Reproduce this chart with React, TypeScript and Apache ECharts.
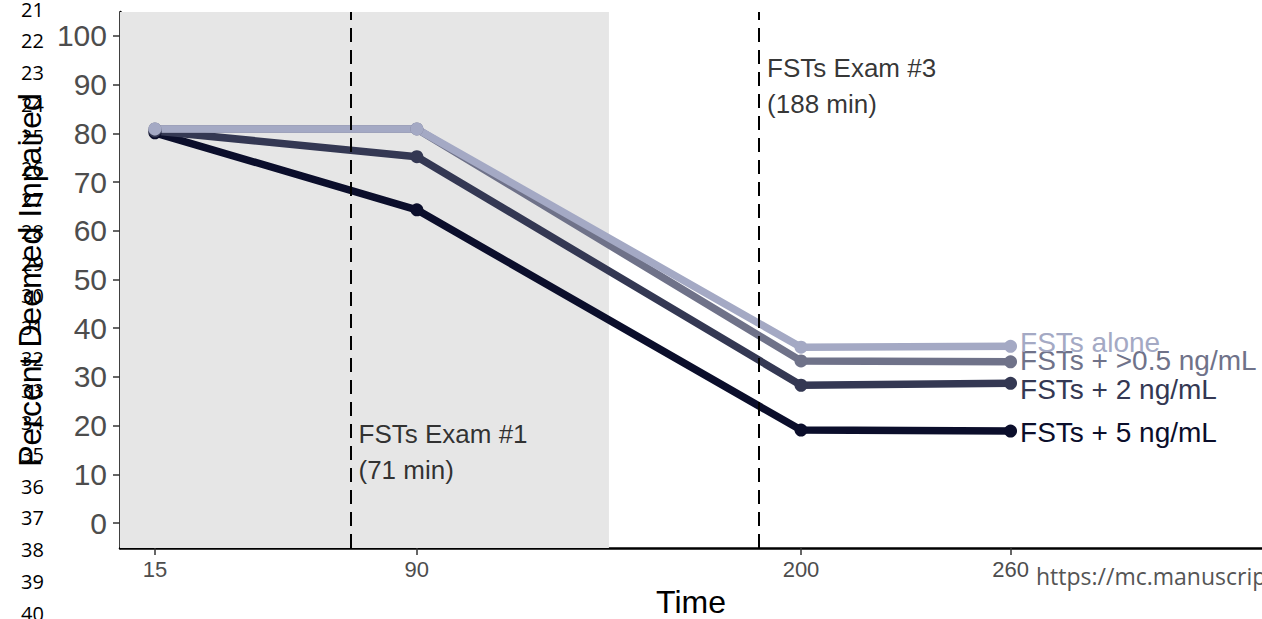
import React, { useEffect, useRef } from "react";
import * as echarts from "echarts";

const times = [15, 90, 200, 260];
const seriesNames = ["FSTs + 5 ng/mL", "FSTs + 2 ng/mL", "FSTs + >0.5 ng/mL", "FSTs alone"];
const fsts5 = [80.1, 64.3, 19.1, 18.9];
const fsts2 = [80.5, 75.2, 28.3, 28.7];
const fsts05 = [80.9, 80.9, 33.3, 33.1];
const fstsAlone = [80.9, 80.9, 36.1, 36.3];
const seriesColors = ["#0b0e2b", "#343853", "#6f7289", "#a4a9c4"];
const labelOffsets = [1, 6, -1, -4];

const yTicks = [0, 10, 20, 30, 40, 50, 60, 70, 80, 90, 100];
const xTicks = [15, 90, 200, 260];
const examTimes = [71, 188];
const examLabels = ["FSTs Exam #1\n(71 min)", "FSTs Exam #3\n(188 min)"];
const examLabelY = [14.6, 89.7];
const shadedRange = [5, 145];
const lineNumbers = [21, 22, 23, 24, 25, 26, 27, 28, 29, 30, 31, 32, 33, 34, 35, 36, 37, 38, 39, 40];
const watermark = "https://mc.manuscrip";

const FONT = "'Liberation Sans', Arial, sans-serif";

export default function App() {
  const ref = useRef<HTMLDivElement>(null);
  useEffect(() => {
    if (!ref.current) return;
    const chart = echarts.init(ref.current, null, { renderer: "svg" });
    const values = [fsts5, fsts2, fsts05, fstsAlone];
    const lineSeries = values.map((vals, i) => ({
      type: "line",
      name: seriesNames[i],
      z: 3,
      data: vals.map((v, j) => {
        const last = j === vals.length - 1;
        return {
          value: [times[j], v],
          label: last
            ? {
                show: true,
                position: "right",
                distance: 3,
                offset: [0, labelOffsets[i]],
                formatter: seriesNames[i],
                color: seriesColors[i],
                fontSize: 28,
                fontFamily: FONT,
              }
            : { show: false },
        };
      }),
      symbol: "circle",
      symbolSize: 13,
      showSymbol: true,
      lineStyle: { color: seriesColors[i], width: 7.5 },
      itemStyle: { color: seriesColors[i] },
      emphasis: { disabled: true },
    }));

    chart.setOption({
      animation: false,
      textStyle: { fontFamily: FONT },
      grid: { left: 120, top: 12, right: 0, bottom: 71, containLabel: false, outerBoundsMode: "none" },
      xAxis: {
        type: "value",
        min: 5,
        max: 332,
        name: "Time",
        nameLocation: "middle",
        nameGap: 38,
        nameTextStyle: { fontSize: 32, color: "#000", fontFamily: FONT },
        axisLine: { show: true, onZero: false, lineStyle: { color: "#000", width: 2.5 } },
        axisTick: { show: true, customValues: xTicks, length: 7, lineStyle: { color: "#333", width: 1.5 } },
        axisLabel: { customValues: xTicks, fontSize: 22, color: "#4d4d4d", margin: 10, fontFamily: FONT },
        splitLine: { show: false },
      },
      yAxis: {
        type: "value",
        min: -5.1,
        max: 104.9,
        name: "Percent Deemed Impaired",
        nameLocation: "middle",
        nameGap: 73,
        nameTextStyle: { fontSize: 32, color: "#000", fontFamily: FONT },
        axisLine: { show: true, onZero: false, lineStyle: { color: "#000", width: 2.5 } },
        axisTick: { show: true, customValues: yTicks, length: 7, lineStyle: { color: "#333", width: 1.5 } },
        axisLabel: { customValues: yTicks, fontSize: 30, color: "#4d4d4d", margin: 13, fontFamily: FONT },
        splitLine: { show: false },
      },
      series: [
        {
          type: "line",
          name: "shade",
          z: 1,
          data: [],
          markArea: {
            silent: true,
            itemStyle: { color: "#e6e6e6" },
            data: [[{ xAxis: shadedRange[0] }, { xAxis: shadedRange[1] }]],
          },
        },
        ...lineSeries,
        {
          type: "line",
          name: "exams",
          z: 5,
          data: [],
          markLine: {
            silent: true,
            symbol: "none",
            label: { show: false },
            lineStyle: { color: "#000", width: 2, type: [14, 8] },
            data: examTimes.map((t) => ({ xAxis: t })),
          },
        },
        {
          type: "scatter",
          name: "examLabels",
          z: 6,
          symbolSize: 0,
          data: examTimes.map((t, i) => ({
            value: [t, examLabelY[i]],
            label: {
              show: true,
              position: "right",
              distance: 8,
              formatter: examLabels[i],
              color: "#000",
              fontSize: 26,
              lineHeight: 36,
              fontFamily: FONT,
              align: "left",
            },
          })),
        },
      ],
      graphic: [
        ...lineNumbers.map((n, i) => ({
          type: "text",
          left: 21,
          top: 11 + i * 31.8 - 12,
          style: { text: String(n), fontSize: 20, fill: "#000", fontFamily: "'Open Sans', sans-serif" },
          z: 10,
        })),
        {
          type: "text",
          left: 1036,
          top: 564,
          style: { text: watermark, fontSize: 23, fill: "#555", fontFamily: "'Open Sans', sans-serif" },
          z: 10,
        },
      ],
    });
    return () => chart.dispose();
  }, []);
  return (
    <div
      ref={ref}
      style={{ position: "fixed", left: 0, top: 0, width: 1262, height: 619, background: "#fff" }}
    />
  );
}
